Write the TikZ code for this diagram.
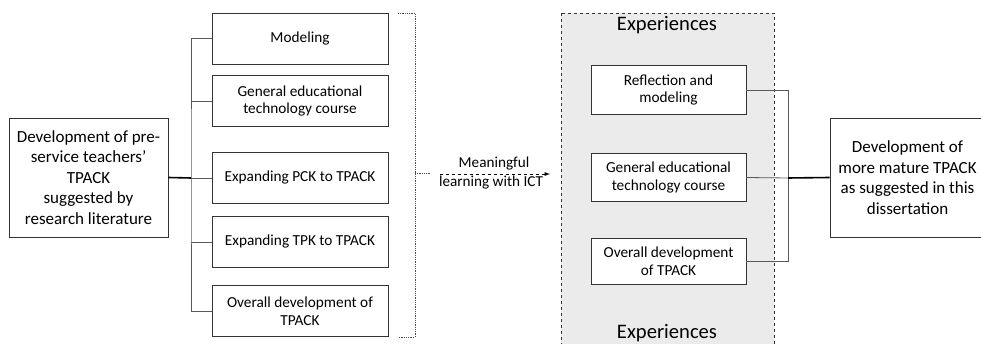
\documentclass[tikz,border=0pt]{standalone}
\usepackage{fontspec}
\setmainfont{Carlito}
\usepackage{tikz}
\usetikzlibrary{arrows, positioning}
\tikzset{>=stealth}

\begin{document}
\begin{tikzpicture}[x=1pt, y=-1pt, >=stealth,
    box/.style={draw=black!80, line width=0.8pt, align=center, inner sep=2pt,
        minimum width=176pt, minimum height=51pt,
        font=\fontsize{15.3}{17.8}\selectfont},
    bigbox/.style={draw=black!80, line width=0.8pt, align=center,
        minimum width=159pt, minimum height=119pt,
        font=\fontsize{17}{20.5}\selectfont},
    link/.style={draw=black!65, line width=0.8pt},
    mainlink/.style={draw=black, line width=1.6pt}]
            \clip (0,0) rectangle (981,344);
            % left side
            \node[bigbox] (lit) at (88.5,177.5){Development of pre-\\service teachers'\\TPACK\\suggested by\\research literature};
            \node[box] (m1) at (300,38.5){Modeling};
            \node[box] (m2) at (300,101){General educational\\technology course};
            \node[box] (m3) at (300,178){Expanding PCK to TPACK};
            \node[box] (m4) at (300,242){Expanding TPK to TPACK};
            \node[box] (m5) at (300,311){Overall development of\\TPACK};
            \coordinate (jl) at (191,178);
            \draw[link] (m1.west) -| (jl) |- (m5.west);
            \draw[link] (m2.west) -- (m2.west -| jl);
            \draw[link] (m4.west) -- (m4.west -| jl);
            \draw[link] (jl) -- (m3.west);
            \draw[mainlink] (lit.east) -- (jl);
            % dotted bracket
            \draw[black!70, densely dotted, line width=0.8pt] (398,13) -- (415,13) -- (415,337) -- (398,337);
            \draw[black!70, densely dotted, line width=0.8pt] (415,173) -- (430,173);
            % arrow
            \coordinate (arrS) at (440,174);
            \coordinate (arrE) at (550,174);
            \draw[-latex, dashed, line width=0.9pt] (arrS) -- (arrE);
            \node[font=\fontsize{15.2}{17.8}\selectfont] (mean) at (494,164){Meaningful};
            \node[font=\fontsize{15.2}{17.8}\selectfont] (lict) at (491,183){learning with ICT};
            % experiences
            \filldraw[fill=black!8, draw=black!80, dashed, line width=0.7pt] (561,13) rectangle (774,360);
            \node[font=\fontsize{20.6}{24}\selectfont] (exptop) at (667,25){Experiences};
            \node[font=\fontsize{20.6}{24}\selectfont] (expbot) at (667,333){Experiences};
            \node[box, fill=white, minimum width=155pt, minimum height=49pt] (e1) at (668.5,90){Reflection and\\modeling};
            \node[box, fill=white, minimum width=155pt, minimum height=48pt] (e2) at (668.5,177.5){General educational\\technology course};
            \node[box, fill=white, minimum width=155pt, minimum height=46pt] (e3) at (668.5,261.5){Overall development\\of TPACK};
            \coordinate (jr) at (788,178);
            \draw[link] (e1.east) -| (jr) |- (e3.east);
            \draw[link] (e2.east) -- (jr);
            % right side
            \node[bigbox, minimum width=155pt] (mature) at (907.5,177.5){Development of\\more mature TPACK\\as suggested in this\\dissertation};
            \draw[mainlink] (jr) -- (mature.west);
            \end{tikzpicture}
\end{document}
